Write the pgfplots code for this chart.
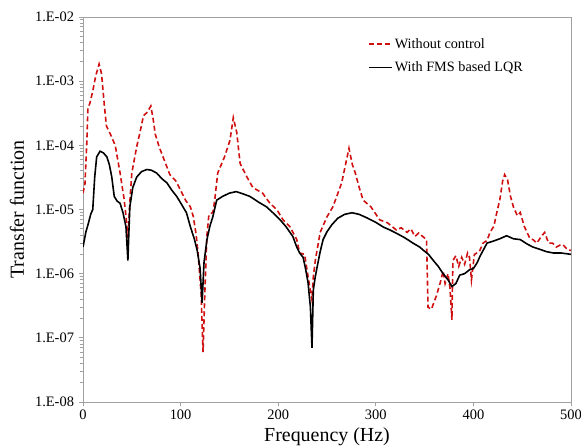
\documentclass[border=0pt]{standalone}
\usepackage{pgfplots}
\pgfplotsset{compat=1.18}
\usepackage{fontspec}
\setmainfont{Liberation Serif}
\definecolor{myred}{HTML}{D01010}
\definecolor{axgray}{HTML}{A0A0A0}
\begin{document}
\begin{tikzpicture}
\begin{axis}[
  scale only axis,
  width=488bp, height=385bp,
  xmin=0, xmax=500,
  ymode=log, ymin=1e-8, ymax=1e-2,
  xtick={0,100,200,300,400,500},
  ytick={1e-8,1e-7,1e-6,1e-5,1e-4,1e-3,1e-2},
  yticklabels={1.E-08,1.E-07,1.E-06,1.E-05,1.E-04,1.E-03,1.E-02},
  minor ytick={},
  log ticks with fixed point=false,
  /pgf/number format/assume math mode=true,
  tick label style={font=\fontsize{14.5}{17}\selectfont},
  yticklabel style={xshift=-1.5bp},
  axis line style={axgray, line width=1pt},
  tick style={axgray, line width=1pt},
  tick align=outside,
  major tick length=4bp,
  xtick pos=bottom, ytick pos=left,
  xlabel={Frequency (Hz)},
  ylabel={Transfer function},
  label style={font=\fontsize{20}{24}\selectfont},
  xlabel style={at={(axis description cs:0.5,0)}, anchor=center, yshift=-35bp},
  ylabel style={at={(axis description cs:0,0.5)}, anchor=center, yshift=66bp},
  legend style={at={(0.578,0.955)}, anchor=north west, draw=none, fill=none,
    font=\fontsize{14.3}{17}\selectfont, row sep=8bp},
  legend cell align=left,
  legend image code/.code={\draw[#1] (0bp,0bp) -- (23bp,0bp);},
]
\addplot[myred, dashed, line width=1.6pt, dash pattern=on 5bp off 3bp] coordinates {
(0,1.8e-5) (2,2.5e-5) (4,1.2e-4) (5,3.8e-4) (7,4.5e-4) (10,7e-4) (13,1.2e-3) (16.5,1.85e-3)
(19,1.3e-3) (22,4e-4) (24,2.0e-4) (28,1.5e-4) (33,1.0e-4) (38,3.7e-5) (42,1.5e-5)
(44,8e-6) (46,3.6e-6) (48,1.3e-5) (50,3.7e-5) (55,9.5e-5) (58,1.5e-4) (62,2.9e-4) (66,3.3e-4) (69.5,4.1e-4)
(72,2.5e-4) (74,1.5e-4) (78,9.5e-5) (82,6.6e-5) (89,3.5e-5) (95,2.8e-5) (100,2.0e-5)
(105,1.4e-5) (110,1.1e-5) (113,7.8e-6) (116,4e-6) (118,2.0e-6) (121,5e-7) (123,6e-8)
(125,6e-7) (127,4e-6) (129,8.3e-6) (133,9e-6) (135,1.4e-5) (138,3.7e-5) (145,6.6e-5)
(150.6,1.2e-4) (154,2.7e-4) (157.5,1.6e-4) (161,5.2e-5) (168,3.2e-5) (174,2.2e-5)
(184,1.8e-5) (191.5,1.25e-5) (198.5,1.0e-5) (205,6.9e-6) (212,5.4e-6) (219,3.4e-6)
(222,2.1e-6) (227,2.0e-6) (230.6,9e-7) (234.6,3.9e-7) (236,9e-7) (238,1.6e-6)
(243,4.4e-6) (250,7.7e-6) (256,1.1e-5) (260,1.6e-5) (265,2.6e-5) (269,5e-5) (272.5,9e-5)
(276,5e-5) (279,3.7e-5) (283,2.2e-5) (287,1.4e-5) (295,1.1e-5) (304,6.9e-6)
(312,6.2e-6) (321,4.8e-6) (326,5.2e-6) (332,4.4e-6) (336,5e-6) (340,3.8e-6)
(344,4.3e-6) (348,3.8e-6) (352,3.4e-6) (353.5,3.0e-7) (357,2.8e-7) (362,4.5e-7)
(366,7.2e-7) (369,1.1e-6) (371,7e-7) (374,1.0e-6) (376,6e-7) (378,1.9e-7)
(379,1.6e-6) (382,1.9e-6) (385,1.3e-6) (388,1.8e-6) (391,1.4e-6) (394,2.1e-6)
(396,1.8e-6) (398,8e-7) (401,2.0e-6) (406,2.2e-6) (410,3.0e-6) (414,3.3e-6)
(417,4.4e-6) (421,5.5e-6) (424,9e-6) (427,1.4e-5) (430,2.8e-5) (432,3.5e-5)
(435,2.9e-5) (438,1.6e-5) (441,1.1e-5) (445,8e-6) (448,9e-6) (452,5.5e-6)
(455,4.4e-6) (458,3.5e-6) (461,3.4e-6) (465,3.0e-6) (469,3.7e-6) (473,4.4e-6)
(477,3.0e-6) (481,3.0e-6) (485,2.6e-6) (489,2.8e-6) (492,2.8e-6) (496,2.4e-6) (500,2.3e-6)
};
\addlegendentry{Without control}
\addplot[black, line width=1.6pt] coordinates {
(0,2.6e-6) (3,4.5e-6) (5,5.7e-6) (8,8.5e-6) (10,1.0e-5) (12,3.2e-5) (14,6.6e-5)
(17.5,8.1e-5) (21,7.6e-5) (24.5,6.6e-5) (27,5e-5) (29.5,3.2e-5) (32,1.6e-5)
(35,1.35e-5) (38,1.25e-5) (41,8.9e-6) (44,5.4e-6) (46,1.6e-6) (47,4.4e-6)
(48,1.1e-5) (51,2.2e-5) (55,3.2e-5) (60,3.9e-5) (65.5,4.2e-5) (70,4.1e-5)
(75.5,3.7e-5) (81,3.0e-5) (86,2.6e-5) (91,2.0e-5) (96,1.6e-5) (101,1.2e-5)
(106,8.9e-6) (110,5.4e-6) (114,3.5e-6) (117,2.3e-6) (120,1.2e-6) (122,3.5e-7)
(124,1.5e-6) (127,3.4e-6) (130,5.5e-6) (133,7.7e-6) (137,1.4e-5) (143,1.6e-5)
(150,1.8e-5) (157,1.9e-5) (164,1.75e-5) (171,1.6e-5) (180,1.3e-5) (188,1.1e-5)
(196,8.5e-6) (202,6.9e-6) (208,5.4e-6) (215,3.8e-6) (219,2.6e-6) (222,2.1e-6)
(225.5,1.8e-6) (228,1.2e-6) (230.6,7.2e-7) (233,3e-7) (234.6,7e-8) (236,5.6e-7)
(238,9e-7) (240,1.3e-6) (243,2.2e-6) (246,3.4e-6) (250,4.5e-6) (255,5.8e-6)
(261,7.3e-6) (268,8.4e-6) (275.6,8.9e-6) (283,8.4e-6) (291,7.4e-6) (300,6.3e-6)
(308,5.3e-6) (314.5,4.8e-6) (322,4.2e-6) (330,3.6e-6) (338,3.0e-6) (345,2.6e-6)
(349,2.3e-6) (354,2.0e-6) (359,1.6e-6) (364,1.3e-6) (369,1.0e-6) (374,8e-7)
(378,6.3e-7) (382,7e-7) (386,9.5e-7) (391,1.0e-6) (396,1.15e-6) (400,1.2e-6)
(404,1.5e-6) (407,1.9e-6) (414,3.0e-6) (420,3.2e-6) (427,3.5e-6) (434,3.9e-6)
(441,3.5e-6) (448,3.4e-6) (455,2.9e-6) (461,2.6e-6) (468,2.4e-6) (475,2.2e-6)
(482,2.1e-6) (490,2.1e-6) (500,2.0e-6)
};
\addlegendentry{With FMS based LQR}
\end{axis}
\pgfresetboundingbox
\path (current axis.south west) ++(-83bp,-46bp) rectangle ([shift={(10bp,17bp)}]current axis.north east);
\end{tikzpicture}
\end{document}
